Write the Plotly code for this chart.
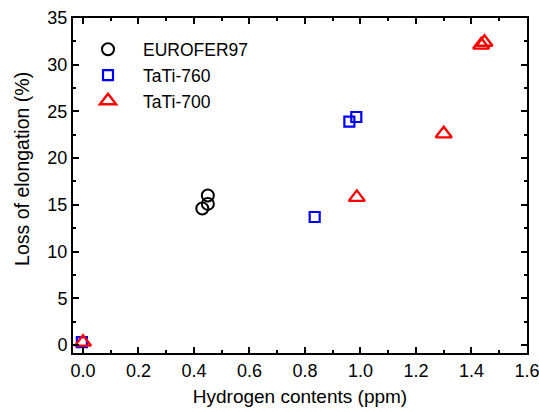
import plotly.graph_objects as go

# Hydrogen content (ppm) vs. loss of elongation (%)
eurofer_h = [0.43, 0.45, 0.45]
eurofer_loss = [14.6, 15.1, 16.0]

tati760_h = [-0.004, 0.835, 0.96, 0.985]
tati760_loss = [0.3, 13.7, 23.9, 24.4]

tati700_h = [0.0, 0.987, 1.30, 1.435, 1.447]
tati700_loss = [0.3, 15.8, 22.6, 32.1, 32.4]

FONT = "Liberation Sans, Arial, sans-serif"

fig = go.Figure()
fig.add_trace(go.Scatter(
    x=eurofer_h, y=eurofer_loss, mode="markers", name="EUROFER97",
    marker=dict(symbol="circle-open", size=12, color="black", line=dict(width=2)),
))
fig.add_trace(go.Scatter(
    x=tati760_h, y=tati760_loss, mode="markers", name="TaTi-760",
    marker=dict(symbol="square-open", size=10, color="#0000ff", line=dict(width=2.2)),
))
fig.add_trace(go.Scatter(
    x=tati700_h, y=tati700_loss, mode="markers", name="TaTi-700",
    marker=dict(symbol="triangle-up-open", size=14, color="#ff0000", line=dict(width=2.4)),
))

axis_common = dict(
    showline=True, linecolor="black", linewidth=2, mirror="ticks",
    ticks="inside", ticklen=6, tickwidth=1.5, tickcolor="black",
    showgrid=False, zeroline=False, ticklabeloverflow="allow",
    tickfont=dict(family=FONT, size=18, color="black"),
)

fig.update_xaxes(
    range=[-0.036, 1.6002], dtick=0.2, tick0=0, tickformat=".1f",
    minor=dict(ticks="inside", ticklen=3, tickwidth=1.5, tickcolor="black", dtick=0.1),
    title=dict(text="Hydrogen contents (ppm)", standoff=10,
               font=dict(family=FONT, size=19, color="black")),
    **axis_common,
)
fig.update_yaxes(
    range=[-0.86, 35], dtick=5, tick0=0,
    minor=dict(ticks="inside", ticklen=3, tickwidth=1.5, tickcolor="black", dtick=2.5),
    **axis_common,
)

fig.update_layout(
    width=539, height=412,
    margin=dict(l=73, r=12, t=18, b=59, autoexpand=False),
    plot_bgcolor="white", paper_bgcolor="white",
    legend=dict(
        x=0.0, y=0.96, xanchor="left", yanchor="top",
        bgcolor="rgba(0,0,0,0)", itemwidth=60, tracegroupgap=0,
        font=dict(family=FONT, size=17.5, color="black"),
    ),
    showlegend=True,
    annotations=[dict(
        text="Loss of elongation (%)", textangle=-90,
        xref="paper", yref="paper", x=-0.112, y=0.55,
        xanchor="center", yanchor="middle", showarrow=False,
        font=dict(family=FONT, size=19.5, color="black"),
    )],
)

fig.write_html("out.html")
